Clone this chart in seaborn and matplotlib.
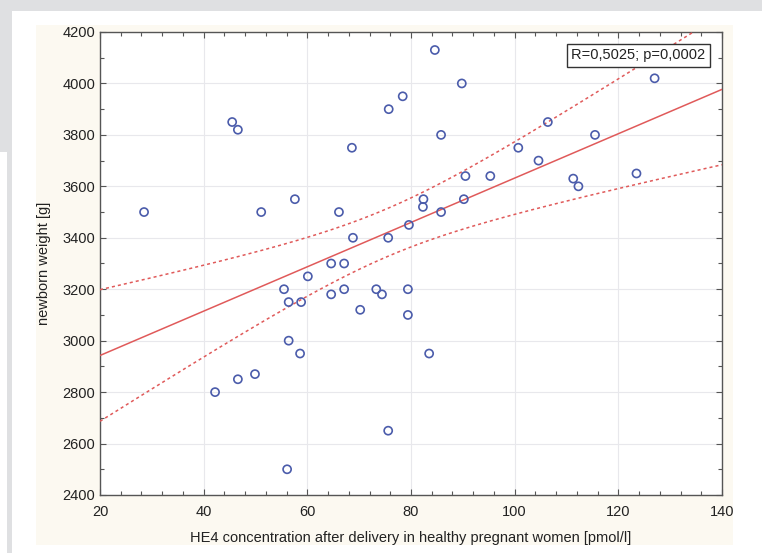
import numpy as np
import pandas as pd
import seaborn as sns
import matplotlib.pyplot as plt
from matplotlib.patches import Rectangle
from matplotlib.ticker import MultipleLocator

# values
he4 = [28.5, 42.2, 45.5, 46.6, 46.6, 49.9, 51.1, 55.5, 56.1, 56.4,
       56.4, 57.6, 58.6, 58.8, 60.1, 64.6, 64.6, 66.1, 67.1, 67.1,
       68.6, 68.8, 70.2, 73.3, 74.4, 75.6, 75.6, 75.7, 78.4, 79.4,
       79.4, 79.6, 82.4, 82.3, 83.5, 84.6, 85.8, 85.8, 89.8, 90.2,
       90.5, 95.3, 100.7, 104.6, 106.4, 111.3, 112.3, 115.5, 123.5, 127.0]
weight = [3500, 2800, 3850, 3820, 2850, 2870, 3500, 3200, 2500, 3150,
          3000, 3550, 2950, 3150, 3250, 3300, 3180, 3500, 3300, 3200,
          3750, 3400, 3120, 3200, 3180, 3400, 2650, 3900, 3950, 3200,
          3100, 3450, 3550, 3520, 2950, 4130, 3800, 3500, 4000, 3550,
          3640, 3640, 3750, 3700, 3850, 3630, 3600, 3800, 3650, 4020]
x_ticks = [20, 40, 60, 80, 100, 120, 140]
y_ticks = [2400, 2600, 2800, 3000, 3200, 3400, 3600, 3800, 4000, 4200]
stat_label = "R=0,5025; p=0,0002"
x_label = "HE4 concentration after delivery in healthy pregnant women [pmol/l]"
y_label = "newborn weight [g]"

df = pd.DataFrame({"he4": he4, "weight": weight})

# linear fit with 95% confidence band for the mean
x = df["he4"].to_numpy()
y = df["weight"].to_numpy()
n = len(x)
b, a = np.polyfit(x, y, 1)
resid = y - (a + b * x)
s = np.sqrt(np.sum(resid ** 2) / (n - 2))
t_val = 2.0106
xs = np.linspace(x_ticks[0], x_ticks[-1], 200)
fit = a + b * xs
se = s * np.sqrt(1 / n + (xs - x.mean()) ** 2 / np.sum((x - x.mean()) ** 2))
band = pd.DataFrame({"x": xs, "fit": fit, "lo": fit - t_val * se, "hi": fit + t_val * se})

sns.set_style("white")
plt.rcParams['font.family'] = ['Liberation Sans', 'DejaVu Sans']

fig = plt.figure(figsize=(7.62, 5.53), dpi=100)
fig.patch.set_facecolor("#dfe0e2")
W, H = 762, 553
fig.patches.append(Rectangle((12 / W, 0), 1, 1 - 11 / H, transform=fig.transFigure,
                             facecolor="white", edgecolor="none", zorder=-3))
fig.patches.append(Rectangle((0, 0), 7 / W, 1 - 152 / H, transform=fig.transFigure,
                             facecolor="white", edgecolor="none", zorder=-3))
fig.patches.append(Rectangle((36 / W, 1 - 545 / H), (733 - 36) / W, (545 - 25) / H,
                             transform=fig.transFigure, facecolor="#fcf9f1",
                             edgecolor="none", zorder=-2))

ax = fig.add_axes([100 / W, 1 - 495 / H, 622 / W, 463 / H])
ax.set_facecolor("white")

red = "#e05a5a"
sns.lineplot(data=band, x="x", y="fit", color=red, lw=1.1, ax=ax, zorder=3)
sns.lineplot(data=band, x="x", y="lo", color=red, lw=1.1, ls=(0, (2, 2)), ax=ax, zorder=3)
sns.lineplot(data=band, x="x", y="hi", color=red, lw=1.1, ls=(0, (2, 2)), ax=ax, zorder=3)
sns.scatterplot(data=df, x="he4", y="weight", marker="o", s=34, facecolor="none",
                edgecolor="#4b5cab", linewidth=1.2, ax=ax, zorder=4)

ax.set_xlim(x_ticks[0], x_ticks[-1])
ax.set_ylim(y_ticks[0], y_ticks[-1])
ax.set_xticks(x_ticks)
ax.set_yticks(y_ticks)
ax.xaxis.set_minor_locator(MultipleLocator(4))
ax.yaxis.set_minor_locator(MultipleLocator(100))
ax.grid(True, which="major", color="#e8e8ec", lw=0.8)
ax.set_axisbelow(True)
ax.tick_params(which="both", direction="in", top=True, right=True, bottom=True, left=True,
               color="#555555", labelsize=10.5, labelcolor="#222222")
ax.tick_params(axis="x", which="major", pad=7)
ax.tick_params(which="major", length=4, width=0.8)
ax.tick_params(which="minor", length=3, width=0.8)
for sp in ax.spines.values():
    sp.set_color("#555555")
    sp.set_linewidth(1.0)

ax.set_xlabel(x_label, fontsize=10.5, color="#222222", labelpad=9)
ax.set_ylabel(y_label, fontsize=10.5, color="#222222", labelpad=8)

ax.text(0.973, 0.965, stat_label, transform=ax.transAxes, ha="right", va="top",
        fontsize=10.5, color="#222222",
        bbox=dict(boxstyle="square,pad=0.3", facecolor="white", edgecolor="#333333", lw=1))

fig.savefig("out.png", dpi=100, facecolor=fig.get_facecolor())
